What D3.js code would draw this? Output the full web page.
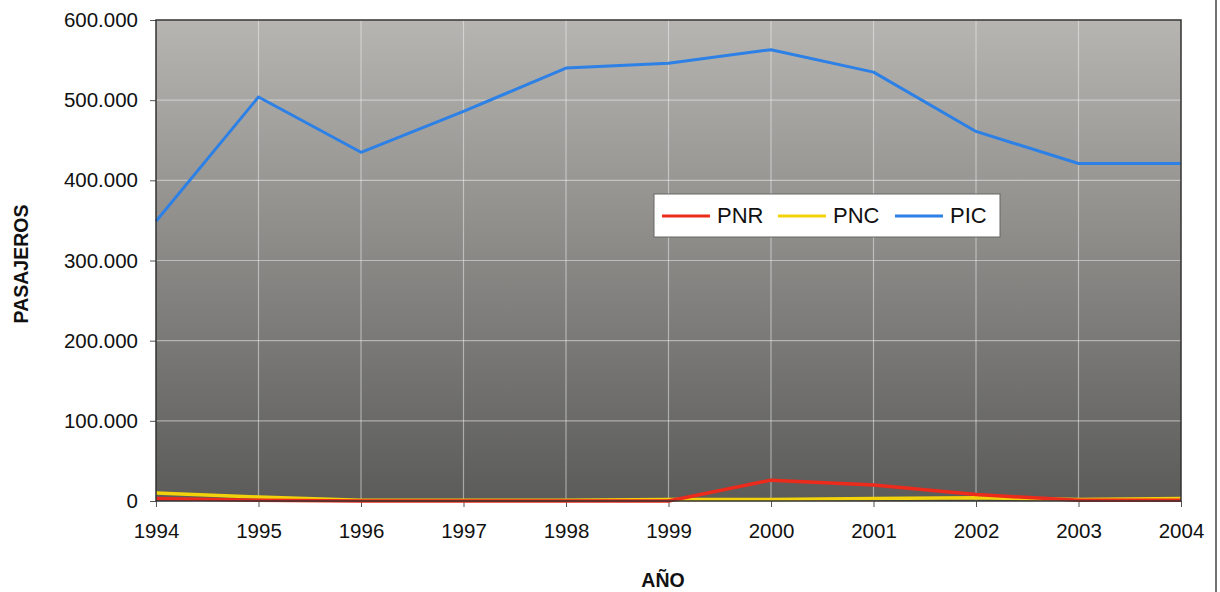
<!DOCTYPE html>
<html>
<head>
<meta charset="utf-8">
<script src="https://cdn.jsdelivr.net/npm/d3@7"></script>
<style>
  html, body { margin: 0; padding: 0; background: #fff; }
  svg { display: block; font-family: "Liberation Sans", Arial, sans-serif; }
</style>
</head>
<body>
<svg id="chart" width="1220" height="592"></svg>
<script>
// Passengers per year by category
const years = [1994, 1995, 1996, 1997, 1998, 1999, 2000, 2001, 2002, 2003, 2004];
const pnr = [3000, 1000, 0, 0, 0, 0, 26000, 20000, 8000, 1000, 1000];
const pnc = [10000, 5000, 1000, 1000, 1000, 2000, 2000, 3000, 4000, 2000, 3000];
const pic = [349000, 504000, 435000, 486000, 540000, 546000, 563000, 535000, 461000, 421000, 421000];
const yTicks = [0, 100000, 200000, 300000, 400000, 500000, 600000];
const seriesNames = ["PNR", "PNC", "PIC"];
const seriesColors = ["#ec2b1c", "#f2d20a", "#2c80e6"];

const svg = d3.select("#chart");
const plotL = 156, plotR = 1181, plotT = 20, plotB = 501;

const x = d3.scaleLinear().domain([1994, 2004]).range([plotL, plotR]);
const y = d3.scaleLinear().domain([0, 600000]).range([plotB, plotT]);

// page frame line at the right
svg.append("line").attr("x1", 1216).attr("x2", 1216).attr("y1", 0).attr("y2", 592)
  .attr("stroke", "#444").attr("stroke-width", 1.5);

// plot background gradient
const defs = svg.append("defs");
const grad = defs.append("linearGradient").attr("id", "bg").attr("x1", 0).attr("y1", 0).attr("x2", 0).attr("y2", 1);
grad.append("stop").attr("offset", "0%").attr("stop-color", "#b7b5b1");
grad.append("stop").attr("offset", "100%").attr("stop-color", "#5b5b59");
svg.append("rect").attr("x", plotL).attr("y", plotT).attr("width", plotR - plotL).attr("height", plotB - plotT)
  .attr("fill", "url(#bg)");

// gridlines
const grid = svg.append("g");
grid.selectAll("line.h").data(yTicks.slice(1)).join("line").attr("class", "h")
  .attr("x1", plotL).attr("x2", plotR)
  .attr("y1", d => y(d)).attr("y2", d => y(d))
  .attr("stroke", "#f2f2f2").attr("stroke-opacity", 0.5).attr("stroke-width", 1.2);
grid.selectAll("line.v").data(years.slice(1, -1)).join("line").attr("class", "v")
  .attr("y1", plotT).attr("y2", plotB)
  .attr("x1", d => x(d)).attr("x2", d => x(d))
  .attr("stroke", "#f2f2f2").attr("stroke-opacity", 0.5).attr("stroke-width", 1.2);

// axes
const fmt = d => d === 0 ? "0" : d3.format(",")(d).replace(/,/g, ".");
const yAxis = svg.append("g").attr("transform", `translate(${plotL},0)`)
  .call(d3.axisLeft(y).tickValues(yTicks).tickFormat(fmt).tickSize(6).tickPadding(12));
const xAxis = svg.append("g").attr("transform", `translate(0,${plotB})`)
  .call(d3.axisBottom(x).tickValues(years).tickFormat(d3.format("d")).tickSize(6).tickPadding(16));
[yAxis, xAxis].forEach(a => {
  a.select(".domain").remove();
  a.selectAll(".tick line").attr("stroke", "#555");
  a.selectAll(".tick text").attr("fill", "#111").style("font-size", "20.5px")
    .style("font-family", "'Liberation Sans', Arial, sans-serif");
});

// series lines
const line = d3.line().x((d, i) => x(years[i])).y(d => y(d));
const data = [pnr, pnc, pic];
svg.append("g").selectAll("path").data([1, 0, 2]).join("path")
  .attr("d", i => line(data[i]))
  .attr("fill", "none")
  .attr("stroke", i => seriesColors[i])
  .attr("stroke-width", i => i === 2 ? 3 : 3.5)
  .attr("stroke-linejoin", "round");

// plot frame
svg.append("rect").attr("x", plotL).attr("y", plotT).attr("width", plotR - plotL).attr("height", plotB - plotT)
  .attr("fill", "none").attr("stroke", "#333").attr("stroke-width", 1.5);

// legend
const lg = svg.append("g").attr("transform", "translate(654,194)");
lg.append("rect").attr("width", 346).attr("height", 43).attr("fill", "#fff")
  .attr("stroke", "#666").attr("stroke-width", 1);
const itemX = [8, 124, 241];
seriesNames.forEach((n, i) => {
  lg.append("line").attr("x1", itemX[i]).attr("x2", itemX[i] + 48).attr("y1", 22).attr("y2", 22)
    .attr("stroke", seriesColors[i]).attr("stroke-width", 3);
  lg.append("text").attr("x", itemX[i] + 55).attr("y", 29).text(n)
    .attr("fill", "#111").style("font-size", "22px");
});

// axis titles
svg.append("text").attr("transform", "translate(28,264) rotate(-90)")
  .attr("text-anchor", "middle").style("font-size", "19.5px").style("font-weight", "bold")
  .attr("fill", "#111").text("PASAJEROS");
svg.append("text").attr("x", 663).attr("y", 587).attr("text-anchor", "middle")
  .style("font-size", "19.5px").style("font-weight", "bold").attr("fill", "#111").text("AÑO");
</script>
</body>
</html>
